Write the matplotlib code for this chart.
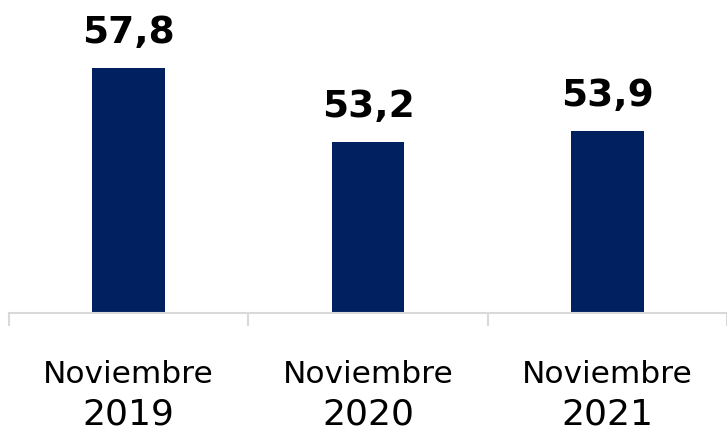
import matplotlib
matplotlib.use("Agg")
import matplotlib.pyplot as plt
import matplotlib.transforms as mtransforms

meses = ["Noviembre", "Noviembre", "Noviembre"]
anios = ["2019", "2020", "2021"]
valores = [57.8, 53.2, 53.9]
etiquetas = ["57,8", "53,2", "53,9"]

azul = "#002060"
gris = "#d9d9d9"

fig = plt.figure(figsize=(7.27, 4.32), dpi=100)
ax = fig.add_axes([9/727, 119/432, 718/727, 313/432])

x = list(range(len(valores)))
ax.bar(x, valores, width=0.305, color=azul, bottom=0)
ax.set_ylim(42.6, 62.04)
ax.set_xlim(-0.5, len(valores) - 0.5)

for s in ["top", "right", "left"]:
    ax.spines[s].set_visible(False)
ax.spines["bottom"].set_color(gris)
ax.spines["bottom"].set_linewidth(1.5)
ax.set_yticks([])
ax.set_xticks([])
ax.set_xticks([-0.5, 0.5, 1.5, 2.5], minor=True)
ax.tick_params(axis="x", which="minor", length=9.5, width=1.5, color=gris, labelbottom=False)

for xi, v, lab in zip(x, valores, etiquetas):
    ax.annotate(lab, (xi, v), xytext=(0, 12.5), textcoords="offset points",
                ha="center", va="bottom", fontsize=27, fontweight="bold", color="black")

trans = mtransforms.blended_transform_factory(ax.transData, ax.transAxes)
for xi, m, a in zip(x, meses, anios):
    ax.annotate(m, (xi, 0), xycoords=trans, xytext=(0, -44.5), textcoords="offset points",
                ha="center", va="center", fontsize=22.5, color="black")
    ax.annotate(a, (xi, 0), xycoords=trans, xytext=(0, -73), textcoords="offset points",
                ha="center", va="center", fontsize=26, color="black")

fig.savefig("out.png", dpi=100)
